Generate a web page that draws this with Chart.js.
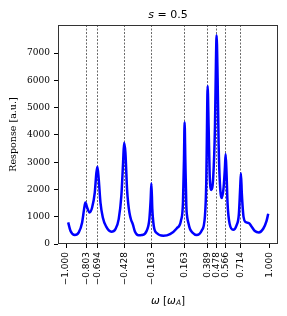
<!DOCTYPE html>
<html>
<head>
<meta charset="utf-8">
<script src="https://cdn.jsdelivr.net/npm/chart.js@4/dist/chart.umd.min.js"></script>
<style>
  html, body { margin: 0; padding: 0; background: #fff; }
  #wrap { width: 287px; height: 316px; }
</style>
</head>
<body>
<div id="wrap"><canvas id="grafico" width="287" height="316"></canvas></div>
<script>
// valores (omega em unidades de omega_A, resposta em u.a.)
const omega = [
  -0.980, -0.958, -0.915, -0.876, -0.843, -0.824, -0.811, -0.794, -0.771, -0.745,
  -0.719, -0.703, -0.693, -0.680, -0.663, -0.640, -0.608, -0.556, -0.516, -0.484,
  -0.458, -0.441, -0.431, -0.418, -0.402, -0.391, -0.379, -0.362, -0.346, -0.324,
  -0.290, -0.258, -0.209, -0.183, -0.170, -0.163, -0.154, -0.140, -0.111, -0.046,
  0.020, 0.085, 0.127, 0.147, 0.157, 0.163, 0.170, 0.180, 0.189, 0.199,
  0.215, 0.238, 0.281, 0.330, 0.363, 0.376, 0.382, 0.389, 0.399, 0.409,
  0.425, 0.444, 0.461, 0.471, 0.477, 0.487, 0.497, 0.510, 0.529, 0.546,
  0.559, 0.566, 0.575, 0.585, 0.605, 0.640, 0.673, 0.696, 0.709, 0.716,
  0.725, 0.734, 0.742, 0.761, 0.794, 0.820, 0.853, 0.892, 0.935, 0.967,
  0.984
];
const resposta = [
  792, 487, 329, 426, 792, 1278, 1521, 1338, 1156, 1338,
  1886, 2616, 2835, 2373, 1521, 974, 645, 450, 548, 913,
  1764, 2981, 3712, 3347, 2008, 1500, 1157, 880, 730, 450,
  320, 329, 487, 913, 1643, 2227, 1278, 669, 402, 304,
  365, 572, 852, 1521, 3103, 4466, 3103, 1399, 980, 791,
  560, 426, 329, 487, 1034, 2300, 4000, 5792, 4270, 2567,
  1983, 2446, 4270, 6705, 7654, 6096, 3661, 2201, 1690, 2080,
  2811, 3296, 2567, 1471, 741, 523, 682, 1107, 2080, 2591,
  1837, 1300, 986, 803, 767, 645, 475, 426, 560, 840,
  1107
];

// ticks do eixo x (as linhas tracejadas ficam nos valores internos)
const ticksX = [-1.000, -0.803, -0.694, -0.428, -0.163, 0.163, 0.389, 0.478, 0.566, 0.714, 1.000];
const ticksY = [0, 1000, 2000, 3000, 4000, 5000, 6000, 7000];

const pontos = omega.map((w, i) => ({ x: w, y: resposta[i] }));

// Plugin que desenha moldura, titulo e rotulo do eixo x
const extras = {
    id: 'extras',
    afterDraw(chart) {
        const { ctx, chartArea } = chart;
        const cx = (chartArea.left + chartArea.right) / 2;
        ctx.save();

        // moldura
        ctx.strokeStyle = '#333';
        ctx.lineWidth = 1;
        ctx.strokeRect(chartArea.left + 0.5, chartArea.top + 0.5,
            chartArea.right - chartArea.left - 1, chartArea.bottom - chartArea.top - 1);

        ctx.fillStyle = '#000';
        ctx.textBaseline = 'middle';
        ctx.textAlign = 'left';

        // titulo  s = 0.5
        const fItal = 'italic 11px "DejaVu Sans"';
        const fReto = '11px "DejaVu Sans"';
        ctx.font = fItal;
        const w1 = ctx.measureText('s').width;
        ctx.font = fReto;
        const w2 = ctx.measureText(' = 0.5').width;
        let x0 = cx - (w1 + w2) / 2;
        ctx.font = fItal;
        ctx.fillText('s', x0, 15);
        ctx.font = fReto;
        ctx.fillText(' = 0.5', x0 + w1, 15);

        // rotulo x  ω [ω_A]
        const partes = [
            { t: 'ω', f: 'italic 10.5px "DejaVu Sans"', dy: 0 },
            { t: ' [', f: '10.5px "DejaVu Sans"', dy: 0 },
            { t: 'ω', f: 'italic 10.5px "DejaVu Sans"', dy: 0 },
            { t: 'A', f: 'italic 7.5px "DejaVu Sans"', dy: 2.5 },
            { t: ']', f: '10.5px "DejaVu Sans"', dy: 0 }
        ];
        let total = 0;
        partes.forEach(p => { ctx.font = p.f; p.w = ctx.measureText(p.t).width; total += p.w; });
        x0 = cx - total / 2;
        partes.forEach(p => {
            ctx.font = p.f;
            ctx.fillText(p.t, x0, 301 + p.dy);
            x0 += p.w;
        });

        // rotulo y
        ctx.translate(14, (chartArea.top + chartArea.bottom) / 2);
        ctx.rotate(-Math.PI / 2);
        ctx.textAlign = 'center';
        ctx.font = '9.5px "DejaVu Serif"';
        ctx.fillText('Response [a.u.]', 0, 0);
        ctx.restore();
    }
};

new Chart(document.getElementById('grafico').getContext('2d'), {
    type: 'line',
    data: {
        datasets: [{
            data: pontos,
            borderColor: '#0000ff',
            borderWidth: 2.5,
            pointRadius: 0,
            fill: false,
            cubicInterpolationMode: 'monotone'
        }]
    },
    options: {
        responsive: false,
        animation: false,
        layout: { padding: { left: 0, right: 9, top: 25, bottom: 0 } },
        plugins: { legend: { display: false }, tooltip: { enabled: false } },
        scales: {
            x: {
                type: 'linear',
                min: -1.08,
                max: 1.08,
                afterBuildTicks: scale => { scale.ticks = ticksX.map(v => ({ value: v })); },
                afterFit: scale => { scale.height = 72; },
                ticks: {
                    autoSkip: false,
                    minRotation: 90,
                    maxRotation: 90,
                    padding: 4,
                    color: '#000',
                    font: { family: '"DejaVu Sans"', size: 9 },
                    callback: v => (v < 0 ? '\u2212' : '') + Math.abs(v).toFixed(3)
                },
                grid: {
                    color: c => (c.tick && Math.abs(c.tick.value) > 0.99) ? 'rgba(0,0,0,0)' : '#444',
                    lineWidth: 0.8,
                    tickColor: '#000',
                    tickLength: 4,
                    tickBorderDash: [],
                    tickWidth: 1
                },
                border: { display: false, dash: [2, 1.5] }
            },
            y: {
                min: 0,
                max: 8030,
                afterBuildTicks: scale => { scale.ticks = ticksY.map(v => ({ value: v })); },
                afterFit: scale => { scale.width = 58; },
                ticks: {
                    padding: 4,
                    color: '#000',
                    font: { family: '"DejaVu Serif"', size: 9 },
                    callback: v => String(v)
                },
                grid: {
                    drawOnChartArea: false,
                    tickColor: '#000',
                    tickLength: 4,
                    tickWidth: 1
                },
                border: { display: false }
            }
        }
    },
    plugins: [extras]
});
</script>
</body>
</html>
